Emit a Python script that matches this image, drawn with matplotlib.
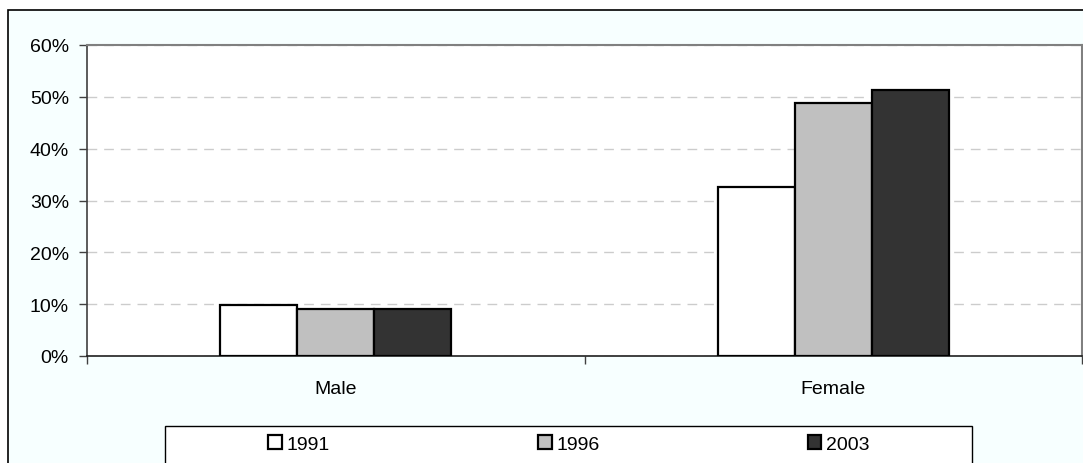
import numpy as np
import matplotlib
matplotlib.use('Agg')
import matplotlib.pyplot as plt
from matplotlib.patches import Rectangle, Patch
from matplotlib.ticker import FixedLocator, FuncFormatter

plt.rcParams['font.family'] = ['Liberation Sans', 'DejaVu Sans']

categories = ['Male', 'Female']
years = ['1991', '1996', '2003']
values_1991 = [9.8, 32.7]
values_1996 = [9.0, 48.9]
values_2003 = [9.1, 51.3]
yticks = [0, 10, 20, 30, 40, 50, 60]

series = [values_1991, values_1996, values_2003]
colors = ['#FFFFFF', '#C0C0C0', '#333333']

W, H = 1083, 464
fig = plt.figure(figsize=(W / 100, H / 100), dpi=100, facecolor='white')

# outer chart frame (cropped on the right and bottom)
fig.patches.append(Rectangle((8 / W, -0.1), 1.2, 1 - 11 / H + 0.1,
                             transform=fig.transFigure, facecolor='#F7FFFF',
                             edgecolor='black', linewidth=1.2, zorder=-10))

ax = fig.add_axes([87 / W, 1 - 357 / H, 995 / W, 311 / H])
ax.set_facecolor('white')

x = np.arange(len(categories))
bw = 0.155
for i, (vals, col) in enumerate(zip(series, colors)):
    ax.bar(x + (i - 1) * bw, vals, width=bw, color=col, edgecolor='black',
           linewidth=1.6, label=years[i], zorder=3)

ax.set_xlim(-0.5, len(categories) - 0.5)
ax.set_ylim(0, 60)
ax.yaxis.set_major_locator(FixedLocator(yticks))
ax.yaxis.set_major_formatter(FuncFormatter(lambda v, p: f'{v:.0f}%'))
ax.grid(axis='y', color='#CCCCCC', linestyle=(0, (7, 5)), linewidth=1, zorder=1)

ax.set_xticks(x)
ax.set_xticklabels(categories)
ax.set_xticks(np.arange(-0.5, len(categories)), minor=True)
ax.tick_params(axis='x', which='major', length=0, pad=17, labelsize=14)
ax.tick_params(axis='x', which='minor', length=6, width=1, color='#404040', direction='out')
ax.tick_params(axis='y', length=6, width=1, color='#404040', direction='out',
               pad=7, labelsize=14)

for side in ['top', 'right']:
    ax.spines[side].set_color('#808080')
    ax.spines[side].set_linewidth(1.5)
ax.spines['left'].set_color('#404040')
ax.spines['bottom'].set_color('#202020')
for side in ['left', 'bottom']:
    ax.spines[side].set_linewidth(1.2)

# legend box
fig.patches.append(Rectangle((165 / W, -0.1), (972 - 165) / W, 0.1 + 1 - 427 / H,
                             transform=fig.transFigure, facecolor='white',
                             edgecolor='black', linewidth=1, zorder=-5))
handles = [Patch(facecolor=c, edgecolor='black', linewidth=1.6) for c in colors]
fig.legend(handles, years, loc='center', ncol=3, frameon=False, fontsize=14,
           bbox_to_anchor=(569 / W, 1 - 445 / H), handlelength=0.7,
           handleheight=0.7, handletextpad=0.25, columnspacing=10.7)

fig.savefig('out.png', dpi=100, facecolor=fig.get_facecolor())
